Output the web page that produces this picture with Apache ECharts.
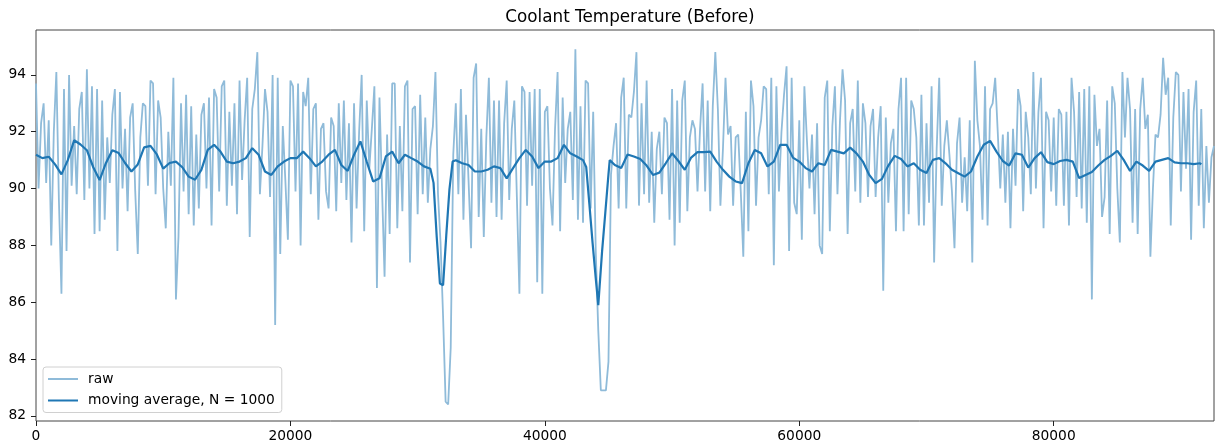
<!DOCTYPE html>
<html>
<head>
<meta charset="utf-8">
<script src="https://cdn.jsdelivr.net/npm/echarts@6/dist/echarts.min.js"></script>
<style>
html,body{margin:0;padding:0;background:#fff;}
#chart{width:1215px;height:448px;}
</style>
</head>
<body>
<div id="chart"></div>
<script>
// ---- data ----
const chartTitle = 'Coolant Temperature (Before)';
const seriesNames = ['raw', 'moving average, N = 1000'];
const xTicks = [0, 20000, 40000, 60000, 80000];
const yTicks = [82, 84, 86, 88, 90, 92, 94];
const xRange = [0, 92600];
const yRange = [81.82, 95.58];

// raw samples, one every rawStep units of x
const rawStep = 200;
const rawTemps = [
93.7,90.0,92.3,93.0,90.2,92.4,88.0,92.0,94.1,89.6,
86.3,93.5,87.8,94.0,90.1,92.2,89.8,92.8,93.4,89.6,
94.2,90.0,93.6,88.4,93.5,88.5,93.1,88.9,91.8,90.2,
92.6,93.5,87.8,93.4,90.0,92.1,89.2,92.5,93.0,89.9,
87.7,91.8,93.0,92.9,90.1,93.8,93.7,89.8,93.1,92.5,
90.0,88.6,92.0,90.1,93.9,86.1,88.3,93.0,89.9,
93.3,89.1,92.9,88.7,91.9,89.3,92.6,93.0,90.0,93.2,
88.7,93.5,93.2,89.9,93.6,93.8,89.4,92.7,90.1,93.0,
89.1,93.8,90.3,92.4,93.9,88.3,92.8,93.5,94.8,89.8,
91.5,93.5,92.7,89.7,94.0,85.2,93.9,87.7,92.2,90.3,
88.2,93.8,93.6,89.9,93.7,88.0,93.4,92.9,93.9,89.8,
92.8,93.0,88.9,92.1,92.3,89.9,89.3,92.5,
92.2,89.2,93.0,90.2,93.1,89.6,92.3,88.1,93.0,89.3,
92.0,94.0,88.5,93.1,90.7,92.1,93.6,86.5,93.2,90.0,
86.9,91.9,88.4,93.7,93.7,88.6,92.2,89.2,93.6,93.8,
87.4,92.8,92.9,89.1,93.3,89.8,92.5,89.5,91.4,92.2,
94.1,89.8,88.1,85.5,82.5,82.4,84.4,91.2,93.0,89.8,
93.5,88.9,92.6,90.3,87.9,93.9,94.4,89.0,92.1,
88.3,91.8,93.9,89.5,93.1,89.0,93.1,88.9,92.3,93.8,
89.6,92.1,93.1,89.7,86.3,93.6,93.4,89.4,93.4,90.1,
93.5,86.7,93.5,86.3,92.7,92.9,90.0,88.7,92.1,94.1,
88.5,93.2,90.2,92.1,92.7,89.6,94.9,88.9,92.9,88.8,
93.8,93.7,89.3,92.7,87.8,85.0,82.9,82.9,82.9,83.9,
90.5,91.5,92.3,89.3,93.2,93.9,89.3,92.6,
92.5,93.4,94.8,89.4,93.0,89.8,93.8,89.5,92.0,88.8,
91.4,92.0,89.8,92.5,92.3,88.9,93.5,88.0,93.1,88.8,
93.1,93.8,89.2,91.8,92.4,92.1,89.9,92.1,93.7,89.9,
93.1,89.2,92.9,94.8,92.8,89.4,91.4,93.9,91.9,92.2,
89.4,91.8,91.9,89.9,87.6,92.7,88.5,93.8,92.9,89.4,
91.8,92.4,93.6,93.5,89.8,93.9,87.3,93.6,
89.9,92.0,93.3,94.3,87.8,93.9,89.5,89.1,92.4,88.2,
93.6,91.7,90.0,91.9,89.1,92.3,88.0,87.7,93.2,93.8,
88.5,92.2,93.6,89.8,92.4,94.2,93.1,88.4,92.3,92.8,
89.9,93.8,89.5,93.0,92.3,89.7,92.2,92.8,89.7,91.8,
92.9,86.4,92.5,89.5,91.6,92.1,88.5,92.8,93.9,88.5,
93.9,89.1,93.1,92.8,91.8,88.7,93.3,88.7,
92.3,89.5,93.6,87.4,91.4,93.9,89.4,91.5,92.4,91.2,
89.9,87.9,91.6,92.5,89.5,91.1,89.2,92.4,87.4,94.5,
92.4,91.5,88.9,93.6,88.7,92.8,93.0,93.9,92.0,90.0,
91.9,89.5,92.0,88.6,92.1,90.1,93.5,92.9,89.2,92.7,
91.8,89.8,94.1,90.0,92.7,93.9,88.6,92.7,92.4,89.9,
92.5,89.4,92.8,92.6,89.4,92.7,88.7,93.9,
92.7,89.7,93.4,89.3,93.5,88.8,93.6,86.1,93.3,91.5,
92.1,89.0,89.7,93.1,88.4,93.6,93.0,90.0,88.1,94.1,
91.8,93.9,92.8,88.8,92.8,88.4,92.8,93.9,92.1,92.6,
87.6,90.0,91.9,91.8,92.6,94.6,93.3,93.9,88.7,92.5,
94.1,94.0,89.9,93.4,90.7,93.5,88.2,92.7,93.8,89.4,
92.8,88.6,91.5,89.5,91.1,91.5
];

// moving average (N = 1000) positions and values
const maX = [
0,500,1000,1500,2000,2500,3000,3500,4000,4500,5000,5500,6000,6500,7000,7500,8000,8500,9000,9500,
10000,10500,11000,11500,12000,12500,13000,13500,14000,14500,15000,15500,16000,16500,17000,17500,18000,18500,19000,19500,
20000,20500,21000,21500,22000,22500,23000,23500,24000,24500,25000,25500,26000,26500,27000,27500,28000,28500,29000,29500,
30000,30500,31000,31250,31500,31750,32000,32250,32500,32750,33000,33500,34000,34500,35000,35500,36000,36500,37000,37500,
38000,38500,39000,39500,40000,40500,41000,41500,42000,42500,43000,43250,43500,43750,44000,44200,44500,44750,45000,45100,
45500,46000,46500,47000,47500,48000,48500,49000,49500,50000,50500,51000,51500,52000,52500,53000,53500,54000,54500,55000,
55500,56000,56500,57000,57500,58000,58500,59000,59500,60000,60500,61000,61500,62000,62500,63000,63500,64000,64500,65000,
65500,66000,66500,67000,67500,68000,68500,69000,69500,70000,70500,71000,71500,72000,72500,73000,73500,74000,74500,75000,
75500,76000,76500,77000,77500,78000,78500,79000,79500,80000,80500,81000,81500,82000,82500,83000,83500,84000,84500,85000,
85500,86000,86500,87000,87500,88000,88500,89000,89500,90000,90500,91000,91500,91600
];
const maY = [
91.19,91.07,91.12,90.85,90.5,91.0,91.7,91.55,91.35,90.75,90.3,90.9,91.35,91.25,90.9,90.6,90.85,91.45,91.5,91.2,
90.7,90.9,90.95,90.75,90.42,90.31,90.66,91.36,91.54,91.3,90.95,90.89,90.95,91.07,91.42,91.19,90.6,90.48,90.78,90.95,
91.07,91.07,91.3,91.07,90.78,90.95,91.19,91.36,90.83,90.62,91.19,91.66,90.95,90.25,90.36,91.13,91.3,90.89,91.19,91.07,
90.95,90.78,90.7,90.2,88.3,86.66,86.6,88.35,89.97,90.95,91.0,90.89,90.83,90.6,90.6,90.66,90.78,90.72,90.36,90.72,
91.07,91.36,91.13,90.72,90.95,90.95,91.07,91.54,91.24,91.13,91.0,90.76,89.45,88.1,86.85,85.9,87.8,89.14,90.5,91.0,
90.83,90.72,91.2,91.13,91.04,90.81,90.48,90.56,90.89,91.24,90.97,90.66,91.09,91.28,91.28,91.3,90.95,90.66,90.42,90.25,
90.19,90.89,91.36,91.24,90.78,90.95,91.54,91.54,91.09,90.95,90.72,90.6,90.89,90.83,91.36,91.3,91.24,91.44,91.24,90.95,
90.48,90.19,90.34,90.81,91.15,91.04,90.78,90.89,90.66,90.55,91.01,91.07,90.89,90.66,90.54,90.42,90.6,91.13,91.54,91.68,
91.3,90.97,90.81,91.24,91.19,90.74,91.07,91.28,90.93,90.86,90.97,91.01,90.95,90.37,90.48,90.58,90.81,91.01,91.15,91.33,
91.01,90.62,90.95,90.81,90.62,90.95,91.01,91.07,90.92,90.89,90.89,90.86,90.89,90.85
];

// ---- build chart ----
const rawData = rawTemps.map((v, i) => [i * rawStep, v]);
const maData = maX.map((x, i) => [x, maY[i]]);

const FONT = 'DejaVu Sans';
const chart = echarts.init(document.getElementById('chart'), null, {renderer: 'canvas'});
chart.setOption({
  animation: false,
  backgroundColor: '#ffffff',
  title: {
    text: chartTitle,
    left: 625, top: 4, textAlign: 'center',
    textStyle: {fontFamily: FONT, fontSize: 16.8, fontWeight: 'normal', color: '#000'}
  },
  grid: {
    left: 36, right: 1, top: 30, bottom: 27,
    containLabel: false, show: true,
    borderColor: '#444', borderWidth: 1, backgroundColor: 'transparent'
  },
  legend: {
    orient: 'vertical',
    left: 43, top: 367,
    data: [
      {name: seriesNames[0], icon: 'rect'},
      {name: seriesNames[1], icon: 'rect'}
    ],
    itemWidth: 30, itemHeight: 2, itemGap: 5.5,
    padding: [4, 7, 4, 5],
    borderColor: '#d0d0d0', borderWidth: 1, borderRadius: 3,
    backgroundColor: 'rgba(255,255,255,0.85)',
    textStyle: {fontFamily: FONT, fontSize: 13.8, lineHeight: 16, color: '#000', padding: [0, 0, 0, 5]}
  },
  xAxis: {
    type: 'value', min: xRange[0], max: xRange[1],
    splitLine: {show: false},
    axisLine: {show: false},
    axisTick: {show: true, inside: false, length: 5, lineStyle: {color: '#222'}, customValues: xTicks},
    axisLabel: {fontFamily: FONT, fontSize: 13.8, color: '#000', margin: 8, customValues: xTicks,
      formatter: v => String(v)}
  },
  yAxis: {
    type: 'value', min: yRange[0], max: yRange[1],
    splitLine: {show: false},
    axisLine: {show: false},
    axisTick: {show: true, inside: false, length: 5, lineStyle: {color: '#222'}, customValues: yTicks},
    axisLabel: {fontFamily: FONT, fontSize: 13.8, color: '#000', margin: 10, customValues: yTicks,
      formatter: v => String(v)}
  },
  series: [
    {
      name: seriesNames[0], type: 'line', data: rawData,
      symbol: 'none', showSymbol: false, sampling: null,
      lineStyle: {color: '#8fbbd9', width: 1.8},
      itemStyle: {color: '#8fbbd9'},
      z: 2
    },
    {
      name: seriesNames[1], type: 'line', data: maData,
      symbol: 'none', showSymbol: false,
      lineStyle: {color: '#1f77b4', width: 2.2},
      itemStyle: {color: '#1f77b4'},
      z: 3
    }
  ]
});
</script>
</body>
</html>
